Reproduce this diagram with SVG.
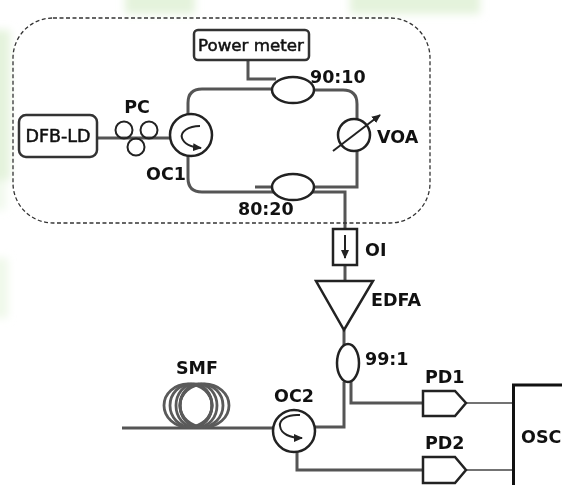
<svg xmlns="http://www.w3.org/2000/svg" width="562" height="485" viewBox="0 0 562 485">
<style>
text{font-family:"DejaVu Sans",sans-serif;font-weight:bold;font-size:17.5px;fill:#111}
.n{font-weight:normal;stroke:#111;stroke-width:.5}
.f{fill:none;stroke:#555;stroke-width:3}
.k{fill:#fff;stroke:#222;stroke-width:2.5}
.b{fill:none;stroke:#222;stroke-width:2}
.t{fill:none;stroke:#444;stroke-width:1.5}
.c{fill:none;stroke:#5a5a5a;stroke-width:2.8}
</style>
<defs>
<filter id="blur" x="-30%" y="-30%" width="160%" height="160%"><feGaussianBlur stdDeviation="4"/></filter>
<marker id="ah" markerUnits="userSpaceOnUse" markerWidth="9" markerHeight="8" refX="8" refY="4" orient="auto"><path d="M0 0L9 4L0 8z" fill="#222"/></marker>
</defs>
<rect width="562" height="485" fill="#fff"/>
<g id="background" fill="#e4f3dc" filter="url(#blur)">
<rect x="125" y="-10" width="70" height="24"/>
<rect x="350" y="-10" width="130" height="24"/>
<rect x="-10" y="30" width="20" height="150"/>
<rect x="-10" y="180" width="16" height="30" opacity=".5"/>
<rect x="-10" y="258" width="18" height="60" opacity=".6"/>
</g>
<g id="connectors">
<path class="f" d="M97 138H170"/>
<path class="f" d="M188 114V103Q188 89 202 89H273"/>
<path class="f" d="M188 156V178Q188 192 202 192H275"/>
<path class="f" d="M255 187H273"/>
<path class="f" d="M248 60V79H276"/>
<path class="f" d="M314 90H343Q357 90 357 104V120"/>
<path class="f" d="M357 150V187H314"/>
<path class="f" d="M312 192H345V229"/>
<path class="f" d="M345 265V281"/>
<path class="f" d="M344 330V345"/>
<path class="f" d="M344 382V427H315"/>
<path class="f" d="M351 382V403H423"/>
<path class="f" d="M122 428H273"/>
<path class="f" d="M297 452V470H423"/>
<path class="t" d="M466 403H513"/>
<path class="t" d="M466 470H513"/>
</g>
<g id="enclosure"><rect x="13" y="18" width="417" height="205" rx="40" fill="none" stroke="#333" stroke-width="1.3" stroke-dasharray="4 2.5"/></g>
<g id="power-meter"><rect x="194" y="30" width="115" height="30" rx="4" fill="#fff" stroke="#333" stroke-width="2.5"/><text class="n" x="251" y="51" text-anchor="middle" style="font-size:16.7px">Power meter</text></g>
<g id="dfb-ld"><rect x="19" y="115" width="78" height="42" rx="7" fill="#fff" stroke="#333" stroke-width="2.5"/><text class="n" x="58" y="142" text-anchor="middle">DFB-LD</text></g>
<g id="pc">
<circle class="b" cx="124" cy="130" r="8.500"/><circle class="b" cx="149" cy="130" r="8.500"/><circle class="b" cx="136" cy="147" r="8.500"/>
<text x="137" y="113" text-anchor="middle">PC</text></g>
<g id="oc1"><circle class="k" cx="191" cy="135" r="21"/><path class="b" d="M200 126C188 126 180 132 182 138C184 144 191 147 201 148" marker-end="url(#ah)"/>
<text x="146" y="180">OC1</text></g>
<g id="coupler-90-10"><ellipse class="k" cx="293" cy="90" rx="21" ry="13"/><text x="310" y="83">90:10</text></g>
<g id="coupler-80-20"><ellipse class="k" cx="293" cy="187" rx="21" ry="13"/><text x="238" y="215">80:20</text></g>
<g id="voa"><circle class="k" cx="354" cy="135" r="16"/><path class="b" d="M333 151L380 115" marker-end="url(#ah)"/><text x="377" y="143">VOA</text></g>
<g id="oi"><rect class="k" x="333" y="229" width="24" height="36"/><path class="b" d="M345 235V258" marker-end="url(#ah)"/><text x="365" y="256">OI</text></g>
<g id="edfa"><path class="k" d="M316 281H373L344 330Z"/><text x="371" y="306">EDFA</text></g>
<g id="coupler-99-1"><ellipse class="k" cx="348" cy="363" rx="11" ry="19"/><text x="365" y="365">99:1</text></g>
<g id="smf">
<ellipse class="c" cx="188" cy="405.500" rx="24" ry="21.500"/><ellipse class="c" cx="191" cy="405.500" rx="21" ry="21.500"/><ellipse class="c" cx="194" cy="405.500" rx="18" ry="21.500"/>
<ellipse class="c" cx="204.500" cy="405.500" rx="24.500" ry="21.500"/><ellipse class="c" cx="201.500" cy="405.500" rx="21.500" ry="21.500"/><ellipse class="c" cx="198.500" cy="405.500" rx="18.500" ry="21.500"/>
<text x="176" y="374">SMF</text></g>
<g id="oc2"><circle class="k" cx="294" cy="431" r="21"/><path class="b" d="M300 415C287 414 279 420 280 426C281 434 290 438 302 438" marker-end="url(#ah)"/><text x="274" y="402">OC2</text></g>
<g id="pd1"><path class="k" d="M423 391H455L466 403L455 416H423Z"/><text x="425" y="383">PD1</text></g>
<g id="pd2"><path class="k" d="M423 457H455L466 470L455 483H423Z"/><text x="425" y="449">PD2</text></g>
<g id="osc"><path fill="#fff" stroke="#111" stroke-width="3" d="M562 385H513.500V486"/><text x="521" y="443">OSC</text></g>
</svg>
